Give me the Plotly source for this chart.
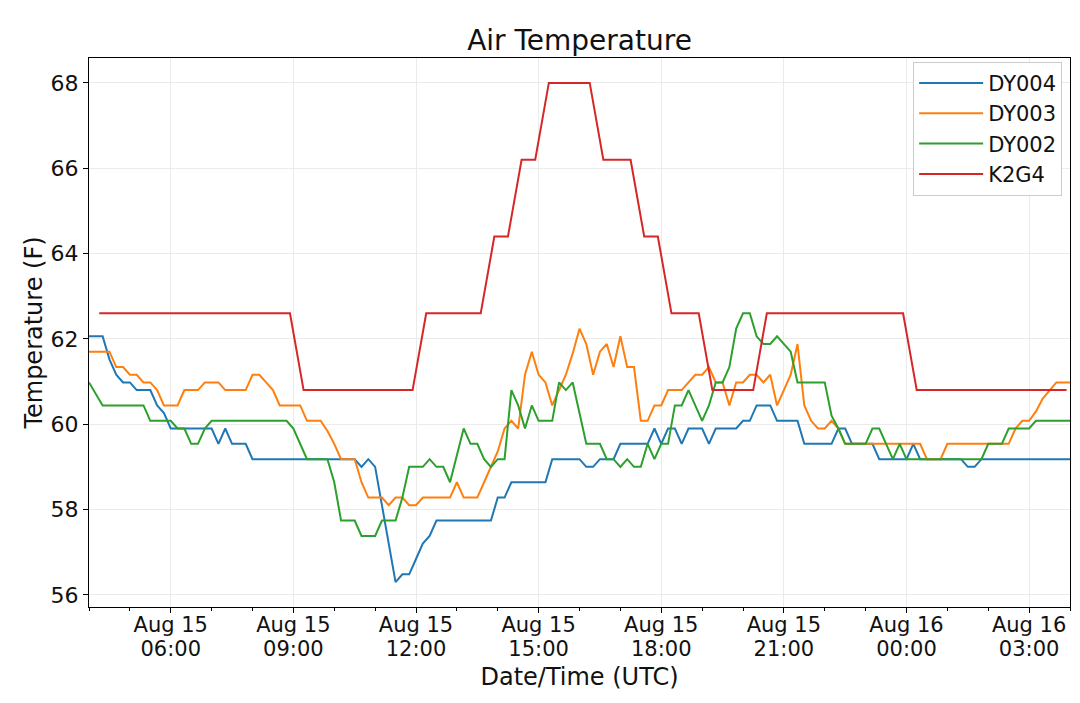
import pandas as pd
import plotly.graph_objects as go

# ── Data ─────────────────────────────────────────────────────────────────────
# DY stations: 10-minute readings from Aug 15 04:00 UTC
DY_START = "2019-08-15 04:00"
DY_STEP = "10min"

dy004 = [62.06, 62.06, 62.06, 61.52, 61.16, 60.98, 60.98, 60.8, 60.8, 60.8,
         60.44, 60.26, 59.9, 59.9, 59.9, 59.9, 59.9, 59.9, 59.9, 59.54,
         59.9, 59.54, 59.54, 59.54, 59.18, 59.18, 59.18, 59.18, 59.18, 59.18,
         59.18, 59.18, 59.18, 59.18, 59.18, 59.18, 59.18, 59.18, 59.18, 59.18,
         59.0, 59.18, 59.0, 58.1, 57.2, 56.3, 56.48, 56.48, 56.84, 57.2,
         57.38, 57.74, 57.74, 57.74, 57.74, 57.74, 57.74, 57.74, 57.74, 57.74,
         58.28, 58.28, 58.64, 58.64, 58.64, 58.64, 58.64, 58.64, 59.18, 59.18,
         59.18, 59.18, 59.18, 59.0, 59.0, 59.18, 59.18, 59.18, 59.54, 59.54,
         59.54, 59.54, 59.54, 59.9, 59.54, 59.9, 59.9, 59.54, 59.9, 59.9,
         59.9, 59.54, 59.9, 59.9, 59.9, 59.9, 60.08, 60.08, 60.44, 60.44,
         60.44, 60.08, 60.08, 60.08, 60.08, 59.54, 59.54, 59.54, 59.54, 59.54,
         59.9, 59.9, 59.54, 59.54, 59.54, 59.54, 59.18, 59.18, 59.18, 59.18,
         59.18, 59.54, 59.18, 59.18, 59.18, 59.18, 59.18, 59.18, 59.18, 59.0,
         59.0, 59.18, 59.18, 59.18, 59.18, 59.18, 59.18, 59.18, 59.18, 59.18,
         59.18, 59.18, 59.18, 59.18, 59.18]

dy003 = [61.7, 61.7, 61.7, 61.7, 61.34, 61.34, 61.16, 61.16, 60.98, 60.98,
         60.8, 60.44, 60.44, 60.44, 60.8, 60.8, 60.8, 60.98, 60.98, 60.98,
         60.8, 60.8, 60.8, 60.8, 61.16, 61.16, 60.98, 60.8, 60.44, 60.44,
         60.44, 60.44, 60.08, 60.08, 60.08, 59.84, 59.54, 59.18, 59.18, 59.18,
         58.64, 58.28, 58.28, 58.28, 58.1, 58.28, 58.28, 58.1, 58.1, 58.28,
         58.28, 58.28, 58.28, 58.28, 58.64, 58.28, 58.28, 58.28, 58.64, 59.0,
         59.36, 59.9, 60.08, 59.9, 61.16, 61.7, 61.16, 60.98, 60.44, 60.8,
         61.16, 61.66, 62.24, 61.88, 61.16, 61.7, 61.88, 61.34, 62.06, 61.34,
         61.34, 60.08, 60.08, 60.44, 60.44, 60.8, 60.8, 60.8, 60.98, 61.16,
         61.16, 61.34, 60.98, 60.98, 60.44, 60.98, 60.98, 61.16, 61.16, 60.98,
         61.16, 60.44, 60.8, 61.16, 61.88, 60.44, 60.08, 59.9, 59.9, 60.08,
         59.9, 59.54, 59.54, 59.54, 59.54, 59.54, 59.54, 59.54, 59.54, 59.54,
         59.54, 59.54, 59.54, 59.18, 59.18, 59.18, 59.54, 59.54, 59.54, 59.54,
         59.54, 59.54, 59.54, 59.54, 59.54, 59.54, 59.9, 60.08, 60.08, 60.3,
         60.6, 60.8, 60.98, 60.98, 60.98]

dy002 = [60.98, 60.7, 60.44, 60.44, 60.44, 60.44, 60.44, 60.44, 60.44, 60.08,
         60.08, 60.08, 60.08, 59.9, 59.9, 59.54, 59.54, 59.9, 60.08, 60.08,
         60.08, 60.08, 60.08, 60.08, 60.08, 60.08, 60.08, 60.08, 60.08, 60.08,
         59.9, 59.54, 59.18, 59.18, 59.18, 59.18, 58.64, 57.74, 57.74, 57.74,
         57.38, 57.38, 57.38, 57.74, 57.74, 57.74, 58.28, 59.0, 59.0, 59.0,
         59.18, 59.0, 59.0, 58.64, 59.27, 59.9, 59.54, 59.54, 59.18, 59.0,
         59.18, 59.18, 60.8, 60.44, 59.9, 60.44, 60.08, 60.08, 60.08, 60.98,
         60.8, 60.98, 60.26, 59.54, 59.54, 59.54, 59.18, 59.18, 59.0, 59.18,
         59.0, 59.0, 59.54, 59.18, 59.54, 59.54, 60.44, 60.44, 60.8, 60.44,
         60.08, 60.44, 60.98, 60.98, 61.34, 62.24, 62.6, 62.6, 62.06, 61.88,
         61.88, 62.06, 61.88, 61.7, 60.98, 60.98, 60.98, 60.98, 60.98, 60.2,
         59.9, 59.54, 59.54, 59.54, 59.54, 59.9, 59.9, 59.54, 59.18, 59.54,
         59.18, 59.18, 59.18, 59.18, 59.18, 59.18, 59.18, 59.18, 59.18, 59.18,
         59.18, 59.18, 59.54, 59.54, 59.54, 59.9, 59.9, 59.9, 59.9, 60.08,
         60.08, 60.08, 60.08, 60.08, 60.08]

# K2G4: 20-minute reports at :15, :35, :55
K2G4_START = "2019-08-15 04:15"
K2G4_STEP = "20min"
k2g4 = [62.6] * 15 + [60.8] * 9 + [62.6] * 5 + [64.4] * 2 + [66.2] * 2 + \
       [68.0] * 4 + [66.2] * 3 + [64.4] * 2 + [62.6] * 3 + [60.8] * 4 + \
       [62.6] * 11 + [60.8] * 12

# (name, values, start, step, colour, x axis)
series = [("DY004", dy004, DY_START, DY_STEP, "#1f77b4", "x"),
          ("DY003", dy003, DY_START, DY_STEP, "#ff7f0e", "x"),
          ("DY002", dy002, DY_START, DY_STEP, "#2ca02c", "x"),
          ("K2G4", k2g4, K2G4_START, K2G4_STEP, "#d62728", "x2")]

# axis ticks: date on one line, time on the next (two stacked axes)
major_ticks = pd.date_range("2019-08-15 06:00", periods=8, freq="3h")
date_text = [t.strftime("%b %d") for t in major_ticks]
time_text = [t.strftime("%H:%M") for t in major_ticks]
x_range = ["2019-08-15 04:00", "2019-08-16 04:00"]
y_range = [55.715, 68.585]

FONT = "DejaVu Sans"
# page body adds an 8px margin, so the figure is drawn 8px smaller
W, H = 1072, 695

fig = go.Figure()
for name, vals, start, step, color, xax in series:
    times = pd.date_range(start, periods=len(vals), freq=step)
    fig.add_trace(go.Scatter(x=times, y=vals, mode="lines", name=name,
                             xaxis=xax, yaxis="y",
                             line=dict(color=color, width=2)))

fig.update_layout(
    width=W, height=H,
    paper_bgcolor="white", plot_bgcolor="white",
    margin=dict(l=81, r=10, t=50, b=96, autoexpand=False),
    font=dict(family=FONT, size=22, color="#111"),
    title=dict(text="Air Temperature", x=0.5, xanchor="center", xref="paper",
               y=1 - 32 / H, yanchor="middle", automargin=False,
               font=dict(size=28, color="#111")),
    legend=dict(x=0.992, y=0.993, xanchor="right", yanchor="top",
                bgcolor="rgba(255,255,255,0.9)", bordercolor="#cccccc", borderwidth=1,
                font=dict(size=21), itemwidth=64, tracegroupgap=0),
    showlegend=True,
    xaxis=dict(
        type="date", range=x_range, tickmode="array",
        tickvals=major_ticks, ticktext=date_text, automargin=False,
        tickfont=dict(size=21),
        showline=True, linecolor="black", linewidth=1, mirror=True,
        ticks="outside", ticklen=5, tickcolor="black", ticklabelstandoff=-6,
        showgrid=True, gridcolor="#ebebeb", gridwidth=1, zeroline=False,
        minor=dict(dtick=3600000, tick0="2019-08-15 04:00", ticks="outside",
                   ticklen=3, tickcolor="black", showgrid=False),
        title=dict(text="Date/Time (UTC)", font=dict(size=24), standoff=31),
    ),
    xaxis2=dict(
        type="date", overlaying="x", anchor="y", side="bottom",
        range=x_range, automargin=False, tickmode="array",
        tickvals=major_ticks, ticktext=time_text, tickfont=dict(size=21),
        ticks="", showline=False, showgrid=False, zeroline=False,
        ticklabelstandoff=27,
    ),
    yaxis=dict(
        range=y_range, tickvals=[56, 58, 60, 62, 64, 66, 68], automargin=False,
        showline=True, linecolor="black", linewidth=1, mirror=True,
        ticks="outside", ticklen=5, tickcolor="black",
        showgrid=True, gridcolor="#ebebeb", gridwidth=1, zeroline=False,
        title=dict(text="Temperature (F)", font=dict(size=24), standoff=1),
    ),
)

fig.write_html("out.html")
